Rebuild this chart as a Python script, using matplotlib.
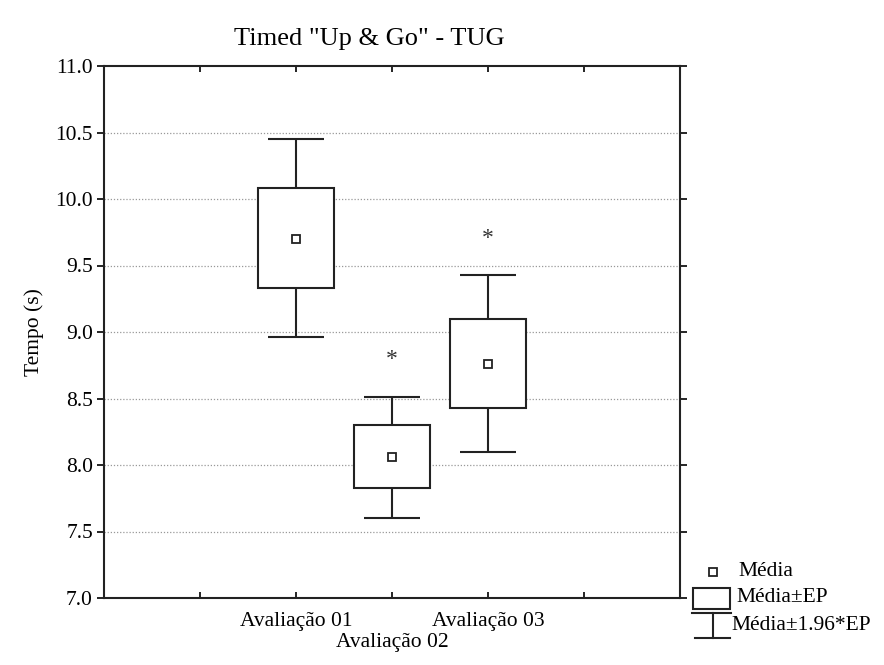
import matplotlib
matplotlib.use('Agg')
import matplotlib.pyplot as plt
from matplotlib.lines import Line2D
from matplotlib.patches import Rectangle

plt.rcParams['font.family'] = ['Liberation Serif', 'DejaVu Serif']

# data
grupos = ['Avaliação 01', 'Avaliação 02', 'Avaliação 03']
media = [9.70, 8.06, 8.76]
ep_lo = [9.33, 7.83, 8.43]
ep_hi = [10.08, 8.30, 9.10]
ic_lo = [8.96, 7.60, 8.10]
ic_hi = [10.45, 8.51, 9.43]
estrela = [None, 8.79, 9.70]

pos = [2, 3, 4]
fs = 15.5

fig = plt.figure(figsize=(8.84, 6.65), dpi=100)
ax = fig.add_axes([104 / 884, 1 - 598 / 665, 576 / 884, 532 / 665])

ax.set_xlim(0, 6)
ax.set_ylim(7.0, 11.0)

# grid
for y in [7.5, 8.0, 8.5, 9.0, 9.5, 10.0, 10.5]:
    ax.axhline(y, color='#999999', lw=0.9, ls=(0, (1, 1.5)), zorder=0)

# whiskers
ax.vlines(pos, ic_lo, ep_lo, color='#222222', lw=1.5, zorder=2)
ax.vlines(pos, ep_hi, ic_hi, color='#222222', lw=1.5, zorder=2)
ax.hlines(ic_lo, [p - 0.29 for p in pos], [p + 0.29 for p in pos],
          color='#222222', lw=1.5, zorder=2)
ax.hlines(ic_hi, [p - 0.29 for p in pos], [p + 0.29 for p in pos],
          color='#222222', lw=1.5, zorder=2)

# boxes
ax.bar(pos, [h - l for h, l in zip(ep_hi, ep_lo)], bottom=ep_lo, width=0.8,
       facecolor='white', edgecolor='#222222', lw=1.5, zorder=3)

# means
ax.plot(pos, media, ls='none', marker='s', ms=6, mfc='white', mec='#222222',
        mew=1.3, zorder=4)

for p, s in zip(pos, estrela):
    if s is not None:
        ax.text(p, s, '*', ha='center', va='center', fontsize=17, color='#333333')

# staggered category labels: 01 and 03 on the ticks, 02 one line lower
ax.set_xticks([1, 2, 3, 4, 5])
ax.set_xticklabels(['', grupos[0], '', grupos[2], ''], fontsize=fs)
ax.annotate(grupos[1], xy=(pos[1], 0), xycoords=('data', 'axes fraction'),
            xytext=(0, -45), textcoords='offset pixels', ha='center',
            va='center', fontsize=fs)
ax.set_yticks([7.0, 7.5, 8.0, 8.5, 9.0, 9.5, 10.0, 10.5, 11.0])
ax.set_yticklabels(['%.1f' % v for v in ax.get_yticks()], fontsize=fs)
ax.tick_params(axis='x', direction='in', length=4, width=1.2, top=True, pad=10)
ax.tick_params(axis='y', direction='out', length=5, width=1.2, right=True, pad=3)
for sp in ax.spines.values():
    sp.set_linewidth(1.5)
    sp.set_color('#222222')

ax.set_ylabel('Tempo (s)', fontsize=fs, labelpad=8)
fig.text(369 / 884, 1 - 39 / 665, 'Timed "Up & Go" - TUG', fontsize=19,
         ha='center', va='center')

# legend drawn in figure pixels
def fx(x):
    return x / 884

def fy(y):
    return 1 - y / 665

fig.add_artist(Line2D([fx(713)], [fy(572)], marker='s', ms=6, mfc='white',
                      mec='#222222', mew=1.3, ls='none', transform=fig.transFigure))
fig.text(fx(738), fy(572), 'Média', fontsize=fs, va='center')
fig.add_artist(Rectangle((fx(693), fy(609)), fx(37), 21 / 665, fill=False,
                         ec='#222222', lw=1.5, transform=fig.transFigure))
fig.text(fx(736), fy(598), 'Média±EP', fontsize=fs, va='center')
fig.add_artist(Line2D([fx(692), fx(731)], [fy(613), fy(613)], color='#222222',
                      lw=1.5, transform=fig.transFigure))
fig.add_artist(Line2D([fx(713), fx(713)], [fy(613), fy(638)], color='#222222',
                      lw=1.5, transform=fig.transFigure))
fig.add_artist(Line2D([fx(695), fx(730)], [fy(638), fy(638)], color='#222222',
                      lw=1.5, transform=fig.transFigure))
fig.text(fx(731), fy(626), 'Média±1.96*EP', fontsize=fs, va='center')

fig.savefig('out.png', dpi=100)
